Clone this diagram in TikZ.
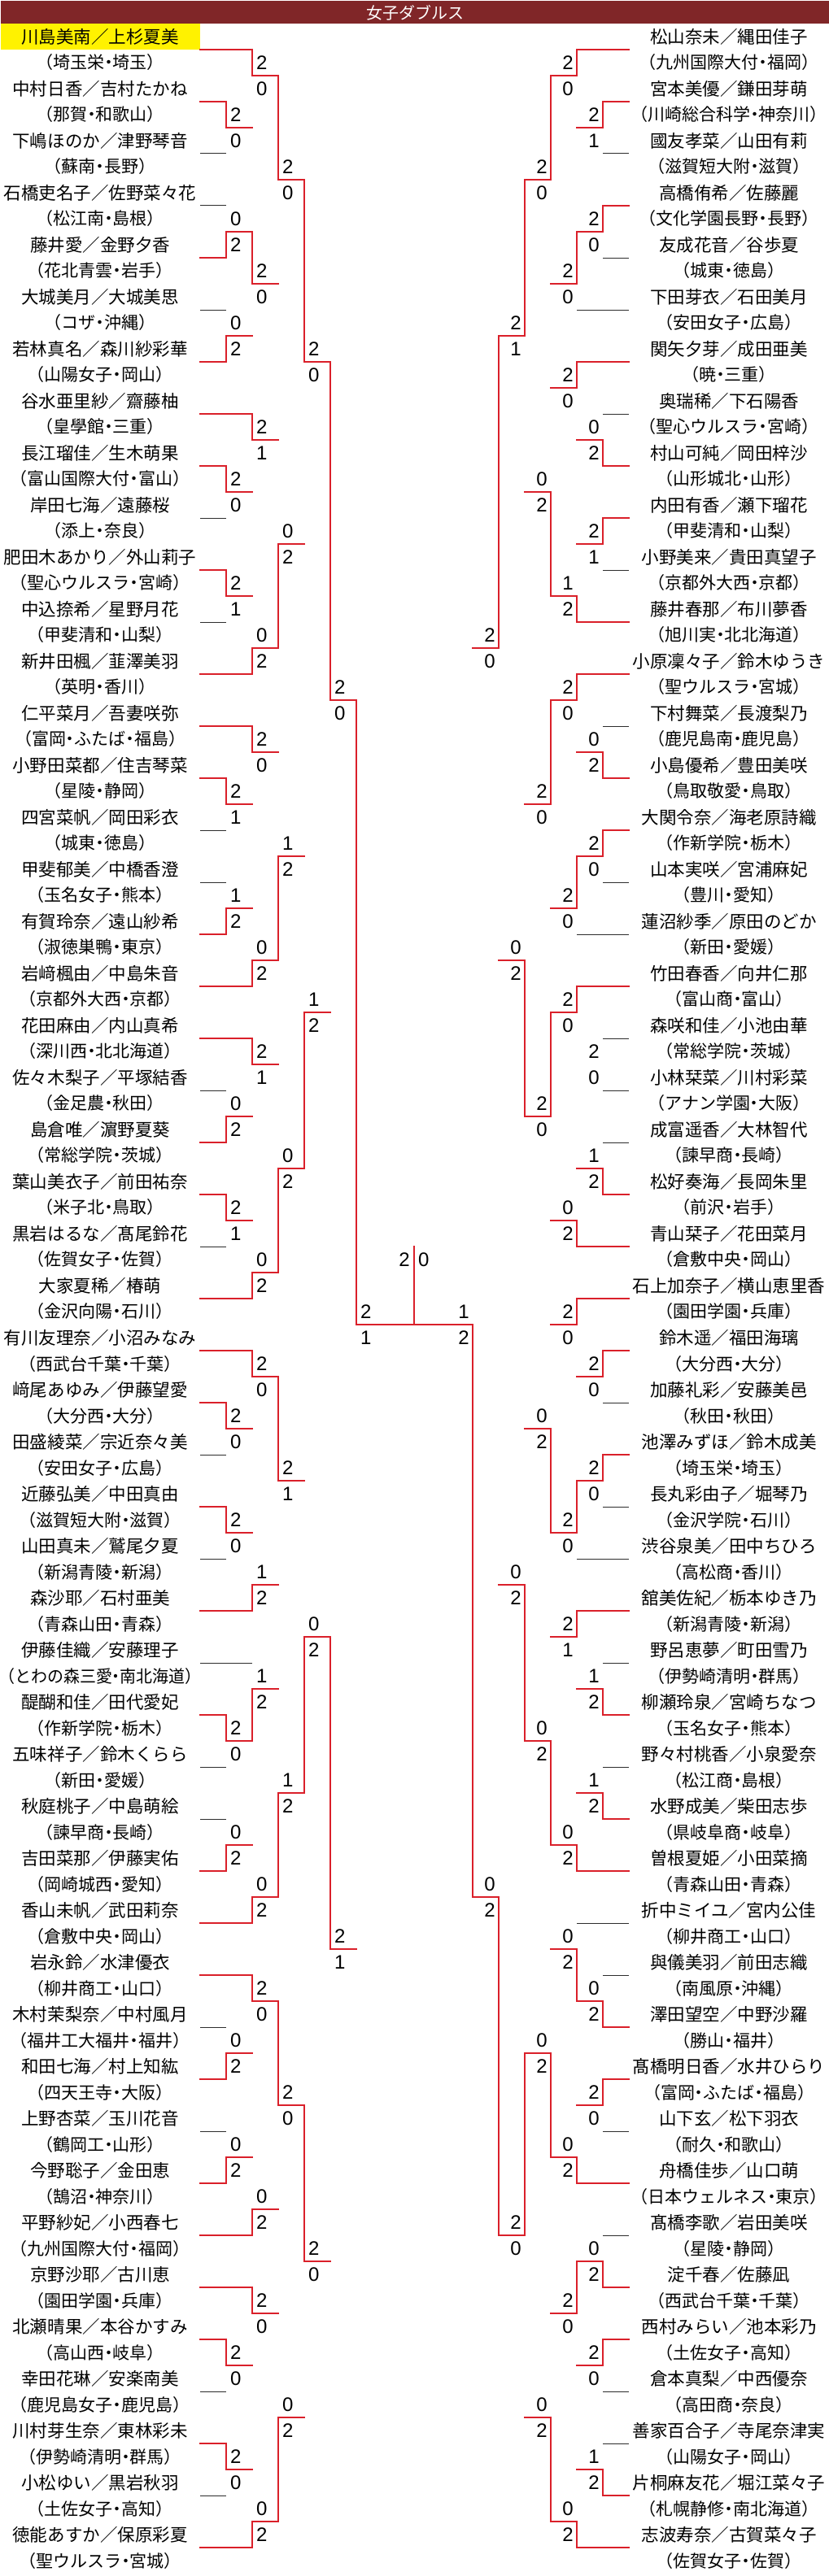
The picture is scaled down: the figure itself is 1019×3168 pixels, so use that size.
\documentclass[tikz,border=0pt]{standalone}
\usepackage{fontspec}
\setmainfont{Noto Sans CJK JP}
\newfontfamily\numf{Liberation Sans}
\definecolor{wred}{RGB}{218,32,42}
\definecolor{lgray}{RGB}{45,45,45}
\definecolor{tbar}{RGB}{128,38,40}
\pgfdeclarelayer{blk}
\pgfsetlayers{blk,main}
\newcommand{\lpar}{\makebox[0.5em][r]{（}}
\newcommand{\rpar}{\makebox[0.5em][l]{）}}
\newcommand{\dt}{\makebox[0.5em][c]{・}}
\newcommand{\sch}[1]{{\fontsize{21}{21}\selectfont\lpar#1\rpar}}
\tikzset{
  nm/.style={inner sep=0pt, font=\fontsize{21.5}{21.5}\selectfont},
  sc/.style={inner sep=0pt, font=\numf\fontsize{24}{24}\selectfont},
  win/.style={draw=wred, line width=2pt, line cap=rect},
  lose/.style={draw=lgray, line width=1pt},
}
% left entry: index, name, school, target x, style
\newcommand{\LE}[5]{%
  \node[nm] (Ln#1) at (123,{45+64*#1}) {#2};
  \node[nm] (Lc#1) at (123,{77+64*#1}) {#3};
  \coordinate (La#1) at (246,{61+64*#1});
  \coordinate (Lb#1) at (#4,{61+64*#1});
  \draw[#5] (La#1) -- (Lb#1);
}
\newcommand{\RE}[5]{%
  \node[nm] (Rn#1) at (896,{45+64*#1}) {#2};
  \node[nm] (Rc#1) at (896,{77+64*#1}) {#3};
  \coordinate (Ra#1) at (773,{61+64*#1});
  \coordinate (Rb#1) at (#4,{61+64*#1});
  \draw[#5] (Ra#1) -- (Rb#1);
}
% match: x, top, junction, bottom, winner T/B, score top, score bottom, out x
\newcommand{\LM}[8]{%
  \coordinate (P#1-#3t) at (#1,{29+32*#2});
  \coordinate (P#1-#3j) at (#1,{29+32*#3});
  \coordinate (P#1-#3b) at (#1,{29+32*#4});
  \coordinate (P#1-#3o) at (#8,{29+32*#3});
  \if#5T
    \begin{pgfonlayer}{blk}\draw[lose] (P#1-#3j) -- (P#1-#3b);\end{pgfonlayer}
    \draw[win] (P#1-#3t) -- (P#1-#3j) -- (P#1-#3o);
  \else
    \begin{pgfonlayer}{blk}\draw[lose] (P#1-#3t) -- (P#1-#3j);\end{pgfonlayer}
    \draw[win] (P#1-#3b) -- (P#1-#3j) -- (P#1-#3o);
  \fi
  \node[sc,anchor=west] (S#1-#3t) at ({#1+5},{13+32*#3}) {#6};
  \node[sc,anchor=west] (S#1-#3b) at ({#1+5},{45+32*#3}) {#7};
}
\newcommand{\RM}[8]{%
  \coordinate (P#1-#3t) at (#1,{29+32*#2});
  \coordinate (P#1-#3j) at (#1,{29+32*#3});
  \coordinate (P#1-#3b) at (#1,{29+32*#4});
  \coordinate (P#1-#3o) at (#8,{29+32*#3});
  \if#5T
    \begin{pgfonlayer}{blk}\draw[lose] (P#1-#3j) -- (P#1-#3b);\end{pgfonlayer}
    \draw[win] (P#1-#3t) -- (P#1-#3j) -- (P#1-#3o);
  \else
    \begin{pgfonlayer}{blk}\draw[lose] (P#1-#3t) -- (P#1-#3j);\end{pgfonlayer}
    \draw[win] (P#1-#3b) -- (P#1-#3j) -- (P#1-#3o);
  \fi
  \node[sc,anchor=east] (S#1-#3t) at ({#1-4},{13+32*#3}) {#6};
  \node[sc,anchor=east] (S#1-#3b) at ({#1-4},{45+32*#3}) {#7};
}
\begin{document}
\begin{tikzpicture}[x=1pt,y=-1pt]
\useasboundingbox (0,0) rectangle (1019,3168);
\fill[white] (0,0) rectangle (1019,3168);
\fill[tbar] (1,1) rectangle (1019,29.5);
\node[text=white, inner sep=0pt, font=\fontsize{20}{20}\selectfont] (title) at (510,15.5) {女子ダブルス};
\fill[yellow] (1,29.5) rectangle (246,61);
% ---------- left entries ----------
\LE{0}{川島美南／上杉夏美}{\sch{埼玉栄\dt 埼玉}}{310}{win}
\LE{1}{中村日香／吉村たかね}{\sch{那賀\dt 和歌山}}{278}{win}
\LE{2}{下嶋ほのか／津野琴音}{\sch{蘇南\dt 長野}}{278}{lose}
\LE{3}{石橋吏名子／佐野菜々花}{\sch{松江南\dt 島根}}{278}{lose}
\LE{4}{藤井愛／金野夕香}{\sch{花北青雲\dt 岩手}}{278}{win}
\LE{5}{大城美月／大城美思}{\sch{コザ\dt 沖縄}}{278}{lose}
\LE{6}{若林真名／森川紗彩華}{\sch{山陽女子\dt 岡山}}{278}{win}
\LE{7}{谷水亜里紗／齋藤柚}{\sch{皇學館\dt 三重}}{310}{win}
\LE{8}{長江瑠佳／生木萌果}{\sch{富山国際大付\dt 富山}}{278}{win}
\LE{9}{岸田七海／遠藤桜}{\sch{添上\dt 奈良}}{278}{lose}
\LE{10}{肥田木あかり／外山莉子}{\sch{聖心ウルスラ\dt 宮崎}}{278}{win}
\LE{11}{中込捺希／星野月花}{\sch{甲斐清和\dt 山梨}}{278}{lose}
\LE{12}{新井田楓／韮澤美羽}{\sch{英明\dt 香川}}{310}{win}
\LE{13}{仁平菜月／吾妻咲弥}{\sch{富岡\dt ふたば\dt 福島}}{310}{win}
\LE{14}{小野田菜都／住吉琴菜}{\sch{星陵\dt 静岡}}{278}{win}
\LE{15}{四宮菜帆／岡田彩衣}{\sch{城東\dt 徳島}}{278}{lose}
\LE{16}{甲斐郁美／中橋香澄}{\sch{玉名女子\dt 熊本}}{278}{lose}
\LE{17}{有賀玲奈／遠山紗希}{\sch{淑徳巣鴨\dt 東京}}{278}{win}
\LE{18}{岩﨑楓由／中島朱音}{\sch{京都外大西\dt 京都}}{310}{win}
\LE{19}{花田麻由／内山真希}{\sch{深川西\dt 北北海道}}{310}{win}
\LE{20}{佐々木梨子／平塚結香}{\sch{金足農\dt 秋田}}{278}{lose}
\LE{21}{島倉唯／濵野夏葵}{\sch{常総学院\dt 茨城}}{278}{win}
\LE{22}{葉山美衣子／前田祐奈}{\sch{米子北\dt 鳥取}}{278}{win}
\LE{23}{黒岩はるな／髙尾鈴花}{\sch{佐賀女子\dt 佐賀}}{278}{lose}
\LE{24}{大家夏稀／椿萌}{\sch{金沢向陽\dt 石川}}{310}{win}
\LE{25}{有川友理奈／小沼みなみ}{\sch{西武台千葉\dt 千葉}}{310}{win}
\LE{26}{﨑尾あゆみ／伊藤望愛}{\sch{大分西\dt 大分}}{278}{win}
\LE{27}{田盛綾菜／宗近奈々美}{\sch{安田女子\dt 広島}}{278}{lose}
\LE{28}{近藤弘美／中田真由}{\sch{滋賀短大附\dt 滋賀}}{278}{win}
\LE{29}{山田真未／鷲尾夕夏}{\sch{新潟青陵\dt 新潟}}{278}{lose}
\LE{30}{森沙耶／石村亜美}{\sch{青森山田\dt 青森}}{310}{win}
\LE{31}{伊藤佳織／安藤理子}{\scalebox{0.95}[1]{\sch{とわの森三愛\dt 南北海道}}}{310}{lose}
\LE{32}{醍醐和佳／田代愛妃}{\sch{作新学院\dt 栃木}}{278}{win}
\LE{33}{五味祥子／鈴木くらら}{\sch{新田\dt 愛媛}}{278}{lose}
\LE{34}{秋庭桃子／中島萌絵}{\sch{諫早商\dt 長崎}}{278}{lose}
\LE{35}{吉田菜那／伊藤実佑}{\sch{岡崎城西\dt 愛知}}{278}{win}
\LE{36}{香山未帆／武田莉奈}{\sch{倉敷中央\dt 岡山}}{310}{win}
\LE{37}{岩永鈴／水津優衣}{\sch{柳井商工\dt 山口}}{310}{win}
\LE{38}{木村茉梨奈／中村風月}{\sch{福井工大福井\dt 福井}}{278}{lose}
\LE{39}{和田七海／村上知紘}{\sch{四天王寺\dt 大阪}}{278}{win}
\LE{40}{上野杏菜／玉川花音}{\sch{鶴岡工\dt 山形}}{278}{lose}
\LE{41}{今野聡子／金田恵}{\sch{鵠沼\dt 神奈川}}{278}{win}
\LE{42}{平野紗妃／小西春七}{\sch{九州国際大付\dt 福岡}}{310}{win}
\LE{43}{京野沙耶／古川恵}{\sch{園田学園\dt 兵庫}}{310}{win}
\LE{44}{北瀬晴果／本谷かすみ}{\sch{高山西\dt 岐阜}}{278}{win}
\LE{45}{幸田花琳／安楽南美}{\sch{鹿児島女子\dt 鹿児島}}{278}{lose}
\LE{46}{川村芽生奈／東林彩未}{\sch{伊勢崎清明\dt 群馬}}{278}{win}
\LE{47}{小松ゆい／黒岩秋羽}{\sch{土佐女子\dt 高知}}{278}{lose}
\LE{48}{徳能あすか／保原彩夏}{\sch{聖ウルスラ\dt 宮城}}{310}{win}
% ---------- right entries ----------
\RE{0}{松山奈未／縄田佳子}{\sch{九州国際大付\dt 福岡}}{709}{win}
\RE{1}{宮本美優／鎌田芽萌}{\sch{川崎総合科学\dt 神奈川}}{741}{win}
\RE{2}{國友孝菜／山田有莉}{\sch{滋賀短大附\dt 滋賀}}{741}{lose}
\RE{3}{高橋侑希／佐藤麗}{\sch{文化学園長野\dt 長野}}{741}{win}
\RE{4}{友成花音／谷歩夏}{\sch{城東\dt 徳島}}{741}{lose}
\RE{5}{下田芽衣／石田美月}{\sch{安田女子\dt 広島}}{709}{lose}
\RE{6}{関矢夕芽／成田亜美}{\sch{暁\dt 三重}}{709}{win}
\RE{7}{奥瑞稀／下石陽香}{\sch{聖心ウルスラ\dt 宮崎}}{741}{lose}
\RE{8}{村山可純／岡田梓沙}{\sch{山形城北\dt 山形}}{741}{win}
\RE{9}{内田有香／瀬下瑠花}{\sch{甲斐清和\dt 山梨}}{741}{win}
\RE{10}{小野美来／貴田真望子}{\sch{京都外大西\dt 京都}}{741}{lose}
\RE{11}{藤井春那／布川夢香}{\sch{旭川実\dt 北北海道}}{709}{win}
\RE{12}{小原凜々子／鈴木ゆうき}{\sch{聖ウルスラ\dt 宮城}}{709}{win}
\RE{13}{下村舞菜／長渡梨乃}{\sch{鹿児島南\dt 鹿児島}}{741}{lose}
\RE{14}{小島優希／豊田美咲}{\sch{鳥取敬愛\dt 鳥取}}{741}{win}
\RE{15}{大関令奈／海老原詩織}{\sch{作新学院\dt 栃木}}{741}{win}
\RE{16}{山本実咲／宮浦麻妃}{\sch{豊川\dt 愛知}}{741}{lose}
\RE{17}{蓮沼紗季／原田のどか}{\sch{新田\dt 愛媛}}{709}{lose}
\RE{18}{竹田春香／向井仁那}{\sch{富山商\dt 富山}}{709}{win}
\RE{19}{森咲和佳／小池由華}{\sch{常総学院\dt 茨城}}{741}{lose}
\RE{20}{小林栞菜／川村彩菜}{\sch{アナン学園\dt 大阪}}{741}{lose}
\RE{21}{成富遥香／大林智代}{\sch{諫早商\dt 長崎}}{741}{lose}
\RE{22}{松好奏海／長岡朱里}{\sch{前沢\dt 岩手}}{741}{win}
\RE{23}{青山栞子／花田菜月}{\sch{倉敷中央\dt 岡山}}{709}{win}
\RE{24}{石上加奈子／横山恵里香}{\sch{園田学園\dt 兵庫}}{709}{win}
\RE{25}{鈴木遥／福田海璃}{\sch{大分西\dt 大分}}{741}{win}
\RE{26}{加藤礼彩／安藤美邑}{\sch{秋田\dt 秋田}}{741}{lose}
\RE{27}{池澤みずほ／鈴木成美}{\sch{埼玉栄\dt 埼玉}}{741}{win}
\RE{28}{長丸彩由子／堀琴乃}{\sch{金沢学院\dt 石川}}{741}{lose}
\RE{29}{渋谷泉美／田中ちひろ}{\sch{高松商\dt 香川}}{709}{lose}
\RE{30}{舘美佐紀／栃本ゆき乃}{\sch{新潟青陵\dt 新潟}}{709}{win}
\RE{31}{野呂恵夢／町田雪乃}{\sch{伊勢崎清明\dt 群馬}}{741}{lose}
\RE{32}{柳瀬玲泉／宮崎ちなつ}{\sch{玉名女子\dt 熊本}}{741}{win}
\RE{33}{野々村桃香／小泉愛奈}{\sch{松江商\dt 島根}}{741}{lose}
\RE{34}{水野成美／柴田志歩}{\sch{県岐阜商\dt 岐阜}}{741}{win}
\RE{35}{曽根夏姫／小田菜摘}{\sch{青森山田\dt 青森}}{709}{win}
\RE{36}{折中ミイユ／宮内公佳}{\sch{柳井商工\dt 山口}}{709}{lose}
\RE{37}{與儀美羽／前田志織}{\sch{南風原\dt 沖縄}}{741}{lose}
\RE{38}{澤田望空／中野沙羅}{\sch{勝山\dt 福井}}{741}{win}
\RE{39}{髙橋明日香／水井ひらり}{\sch{富岡\dt ふたば\dt 福島}}{741}{win}
\RE{40}{山下玄／松下羽衣}{\sch{耐久\dt 和歌山}}{741}{lose}
\RE{41}{舟橋佳歩／山口萌}{\sch{日本ウェルネス\dt 東京}}{709}{win}
\RE{42}{髙橋李歌／岩田美咲}{\sch{星陵\dt 静岡}}{741}{lose}
\RE{43}{淀千春／佐藤凪}{\sch{西武台千葉\dt 千葉}}{741}{win}
\RE{44}{西村みらい／池本彩乃}{\sch{土佐女子\dt 高知}}{741}{win}
\RE{45}{倉本真梨／中西優奈}{\sch{高田商\dt 奈良}}{741}{lose}
\RE{46}{善家百合子／寺尾奈津実}{\sch{山陽女子\dt 岡山}}{741}{lose}
\RE{47}{片桐麻友花／堀江菜々子}{\sch{札幌静修\dt 南北海道}}{741}{win}
\RE{48}{志波寿奈／古賀菜々子}{\sch{佐賀女子\dt 佐賀}}{709}{win}
% ---------- left rounds ----------
\LM{278}{3}{4}{5}{T}{2}{0}{310}
\LM{278}{7}{8}{9}{B}{0}{2}{310}
\LM{278}{11}{12}{13}{B}{0}{2}{310}
\LM{278}{17}{18}{19}{T}{2}{0}{310}
\LM{278}{21}{22}{23}{T}{2}{1}{310}
\LM{278}{29}{30}{31}{T}{2}{1}{310}
\LM{278}{33}{34}{35}{B}{1}{2}{310}
\LM{278}{41}{42}{43}{B}{0}{2}{310}
\LM{278}{45}{46}{47}{T}{2}{1}{310}
\LM{278}{53}{54}{55}{T}{2}{0}{310}
\LM{278}{57}{58}{59}{T}{2}{0}{310}
\LM{278}{65}{66}{67}{T}{2}{0}{310}
\LM{278}{69}{70}{71}{B}{0}{2}{310}
\LM{278}{77}{78}{79}{B}{0}{2}{310}
\LM{278}{81}{82}{83}{B}{0}{2}{310}
\LM{278}{89}{90}{91}{T}{2}{0}{310}
\LM{278}{93}{94}{95}{T}{2}{0}{310}
\LM{310}{1}{2}{4}{T}{2}{0}{342}
\LM{310}{8}{10}{12}{T}{2}{0}{342}
\LM{310}{15}{16}{18}{T}{2}{1}{342}
\LM{310}{22}{24}{25}{B}{0}{2}{342}
\LM{310}{27}{28}{30}{T}{2}{0}{342}
\LM{310}{34}{36}{37}{B}{0}{2}{342}
\LM{310}{39}{40}{42}{T}{2}{1}{342}
\LM{310}{46}{48}{49}{B}{0}{2}{342}
\LM{310}{51}{52}{54}{T}{2}{0}{342}
\LM{310}{58}{60}{61}{B}{1}{2}{342}
\LM{310}{63}{64}{66}{B}{1}{2}{342}
\LM{310}{70}{72}{73}{B}{0}{2}{342}
\LM{310}{75}{76}{78}{T}{2}{0}{342}
\LM{310}{82}{84}{85}{B}{0}{2}{342}
\LM{310}{87}{88}{90}{T}{2}{0}{342}
\LM{310}{94}{96}{97}{B}{0}{2}{342}
\LM{342}{2}{6}{10}{T}{2}{0}{374}
\LM{342}{16}{20}{24}{B}{0}{2}{374}
\LM{342}{28}{32}{36}{B}{1}{2}{374}
\LM{342}{40}{44}{48}{B}{0}{2}{374}
\LM{342}{52}{56}{60}{T}{2}{1}{374}
\LM{342}{64}{68}{72}{B}{1}{2}{374}
\LM{342}{76}{80}{84}{T}{2}{0}{374}
\LM{342}{88}{92}{96}{B}{0}{2}{374}
\LM{374}{6}{13}{20}{T}{2}{0}{406}
\LM{374}{32}{38}{44}{B}{1}{2}{406}
\LM{374}{56}{62}{68}{B}{0}{2}{406}
\LM{374}{80}{86}{92}{T}{2}{0}{406}
\LM{406}{13}{26}{38}{T}{2}{0}{438}
\LM{406}{62}{74}{86}{T}{2}{1}{438}
\LM{438}{26}{50}{74}{T}{2}{1}{508.5}
% ---------- right rounds ----------
\RM{741}{3}{4}{5}{T}{2}{1}{709}
\RM{741}{7}{8}{9}{T}{2}{0}{709}
\RM{741}{15}{16}{17}{B}{0}{2}{709}
\RM{741}{19}{20}{21}{T}{2}{1}{709}
\RM{741}{27}{28}{29}{B}{0}{2}{709}
\RM{741}{31}{32}{33}{T}{2}{0}{709}
% match drawn all in black in the reference
\coordinate (P741-40t) at (741,{29+32*39});
\coordinate (P741-40j) at (741,{29+32*40});
\coordinate (P741-40b) at (741,{29+32*41});
\coordinate (P741-40o) at (709,{29+32*40});
\begin{pgfonlayer}{blk}
\draw[lose] (P741-40t) -- (P741-40b);
\draw[lose] (P741-40j) -- (P741-40o);
\end{pgfonlayer}
\node[sc,anchor=east] (S741-40t) at (737,{13+32*40}) {2};
\node[sc,anchor=east] (S741-40b) at (737,{45+32*40}) {0};
\RM{741}{43}{44}{45}{B}{1}{2}{709}
\RM{741}{51}{52}{53}{T}{2}{0}{709}
\RM{741}{55}{56}{57}{T}{2}{0}{709}
\RM{741}{63}{64}{65}{B}{1}{2}{709}
\RM{741}{67}{68}{69}{B}{1}{2}{709}
\RM{741}{75}{76}{77}{B}{0}{2}{709}
\RM{741}{79}{80}{81}{T}{2}{0}{709}
\RM{741}{85}{86}{87}{B}{0}{2}{709}
\RM{741}{89}{90}{91}{T}{2}{0}{709}
\RM{741}{93}{94}{95}{B}{1}{2}{709}
\RM{709}{1}{2}{4}{T}{2}{0}{677}
\RM{709}{8}{10}{11}{T}{2}{0}{677}
\RM{709}{13}{14}{16}{T}{2}{0}{677}
\RM{709}{20}{22}{23}{B}{1}{2}{677}
\RM{709}{25}{26}{28}{T}{2}{0}{677}
\RM{709}{32}{34}{35}{T}{2}{0}{677}
\RM{709}{37}{38}{40}{T}{2}{0}{677}
\RM{709}{44}{46}{47}{B}{0}{2}{677}
\RM{709}{49}{50}{52}{T}{2}{0}{677}
\RM{709}{56}{58}{59}{T}{2}{0}{677}
\RM{709}{61}{62}{64}{T}{2}{1}{677}
\RM{709}{68}{70}{71}{B}{0}{2}{677}
\RM{709}{73}{74}{76}{B}{0}{2}{677}
\RM{709}{80}{82}{83}{B}{0}{2}{677}
\RM{709}{86}{88}{90}{T}{2}{0}{677}
\RM{709}{94}{96}{97}{B}{0}{2}{677}
\RM{677}{2}{6}{10}{T}{2}{0}{645}
\RM{677}{14}{18}{22}{B}{0}{2}{645}
\RM{677}{26}{30}{34}{T}{2}{0}{645}
\RM{677}{38}{42}{46}{T}{2}{0}{645}
\RM{677}{50}{54}{58}{B}{0}{2}{645}
\RM{677}{62}{66}{70}{B}{0}{2}{645}
\RM{677}{74}{78}{82}{B}{0}{2}{645}
\RM{677}{88}{92}{96}{B}{0}{2}{645}
\RM{645}{6}{12}{18}{T}{2}{1}{613}
\RM{645}{30}{36}{42}{B}{0}{2}{613}
\RM{645}{54}{60}{66}{B}{0}{2}{613}
\RM{645}{78}{85}{92}{T}{2}{0}{613}
\RM{613}{12}{24}{36}{T}{2}{0}{581}
\RM{613}{60}{72}{85}{B}{0}{2}{581}
\RM{581}{24}{50}{72}{B}{1}{2}{508.5}
% ---------- final ----------
\coordinate (Ftop) at (508.5,{29+32*47});
\coordinate (Fbot) at (508.5,{29+32*50});
\draw[win] (Fbot) -- (Ftop);
\node[sc,anchor=east] (FL) at (504,{45+32*47}) {2};
\node[sc,anchor=west] (FR) at (514,{45+32*47}) {0};
\end{tikzpicture}
\end{document}
